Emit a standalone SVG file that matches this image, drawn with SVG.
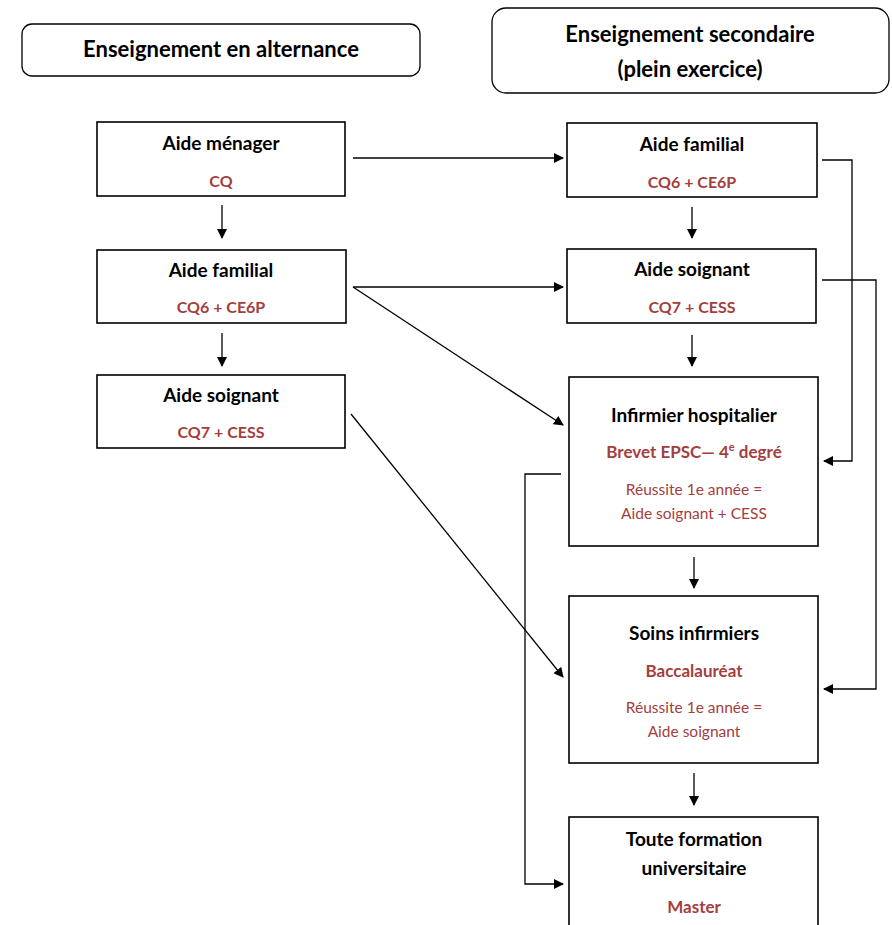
<svg xmlns="http://www.w3.org/2000/svg" width="892" height="925" viewBox="0 0 892 925">
<defs>
<marker id="ah" markerWidth="10" markerHeight="10" refX="9" refY="5" orient="auto" markerUnits="userSpaceOnUse">
<path d="M0,0 L10,5 L0,10 z" fill="#000"/>
</marker>
<style>
.box{fill:#fff;stroke:#000;stroke-width:1.6}
.hdr{fill:#fff;stroke:#000;stroke-width:1.3}
.t{font-family:Lato,"Open Sans",sans-serif;font-weight:bold;font-size:19px;fill:#000;text-anchor:middle}
.h{font-family:Lato,"Open Sans",sans-serif;font-weight:bold;font-size:22px;fill:#000;text-anchor:middle}
.r{font-family:Lato,"Open Sans",sans-serif;font-weight:bold;font-size:16px;fill:#a3403d;text-anchor:middle}
.rb{font-family:Lato,"Open Sans",sans-serif;font-weight:bold;font-size:17px;fill:#a3403d;text-anchor:middle}
.n{font-family:Lato,"Open Sans",sans-serif;font-size:15.5px;fill:#a3403d;text-anchor:middle}
.c{fill:none;stroke:#000;stroke-width:1.3}
</style>
</defs>
<g id="hdr-alternance"><rect class="hdr" x="22" y="24" width="398" height="52" rx="10"/><text class="h" x="221" y="57">Enseignement en alternance</text></g>
<g id="hdr-secondaire"><rect class="hdr" x="492" y="8" width="397" height="85" rx="14"/><text class="h" x="690" y="42">Enseignement secondaire</text><text class="h" x="690" y="77">(plein exercice)</text></g>

<g id="l-menager"><rect class="box" x="97" y="122" width="248" height="74"/><text class="t" x="221" y="150">Aide ménager</text><text class="r" x="221" y="187">CQ</text></g>
<g id="l-familial"><rect class="box" x="97" y="250" width="249" height="73"/><text class="t" x="221" y="277">Aide familial</text><text class="r" x="221" y="313">CQ6 + CE6P</text></g>
<g id="l-soignant"><rect class="box" x="97" y="375" width="248" height="73"/><text class="t" x="221" y="402">Aide soignant</text><text class="r" x="221" y="438">CQ7 + CESS</text></g>

<g id="r-familial"><rect class="box" x="567" y="123" width="250" height="74"/><text class="t" x="692" y="151">Aide familial</text><text class="r" x="692" y="188">CQ6 + CE6P</text></g>
<g id="r-soignant"><rect class="box" x="567" y="249" width="249" height="74"/><text class="t" x="692" y="276">Aide soignant</text><text class="r" x="692" y="313">CQ7 + CESS</text></g>
<g id="r-infirmier"><rect class="box" x="569" y="377" width="249" height="169"/><text class="t" x="694" y="422">Infirmier hospitalier</text><text class="rb" x="694" y="458">Brevet EPSC— 4<tspan font-size="11" dy="-7">e</tspan><tspan dy="7"> degré</tspan></text><text class="n" x="694" y="495">Réussite 1e année =</text><text class="n" x="694" y="519">Aide soignant + CESS</text></g>
<g id="r-soins"><rect class="box" x="569" y="596" width="249" height="167"/><text class="t" x="694" y="640">Soins infirmiers</text><text class="rb" x="694" y="677">Baccalauréat</text><text class="n" x="694" y="713">Réussite 1e année =</text><text class="n" x="694" y="737">Aide soignant</text></g>
<g id="r-universite"><rect class="box" x="569" y="817" width="249" height="120"/><text class="t" x="694" y="846">Toute formation</text><text class="t" x="694" y="875">universitaire</text><text class="rb" x="694" y="913">Master</text></g>

<g id="connectors">
<line class="c" x1="222" y1="205" x2="222" y2="238" marker-end="url(#ah)"/>
<line class="c" x1="222" y1="333" x2="222" y2="366" marker-end="url(#ah)"/>
<line class="c" x1="692" y1="207" x2="692" y2="238" marker-end="url(#ah)"/>
<line class="c" x1="692" y1="335" x2="692" y2="366" marker-end="url(#ah)"/>
<line class="c" x1="694" y1="557" x2="694" y2="588" marker-end="url(#ah)"/>
<line class="c" x1="694" y1="773" x2="694" y2="805" marker-end="url(#ah)"/>
<line class="c" x1="353" y1="158" x2="563" y2="158" marker-end="url(#ah)"/>
<line class="c" x1="353" y1="287" x2="563" y2="287" marker-end="url(#ah)"/>
<line class="c" x1="353" y1="287" x2="563" y2="425" marker-end="url(#ah)"/>
<line class="c" x1="351" y1="414" x2="563" y2="677" marker-end="url(#ah)"/>
<polyline class="c" points="822,160 852,160 852,461 824,461" marker-end="url(#ah)"/>
<polyline class="c" points="822,280 876,280 876,689 824,689" marker-end="url(#ah)"/>
<polyline class="c" points="561,474 525,474 525,884 563,884" marker-end="url(#ah)"/>
</g>
</svg>
